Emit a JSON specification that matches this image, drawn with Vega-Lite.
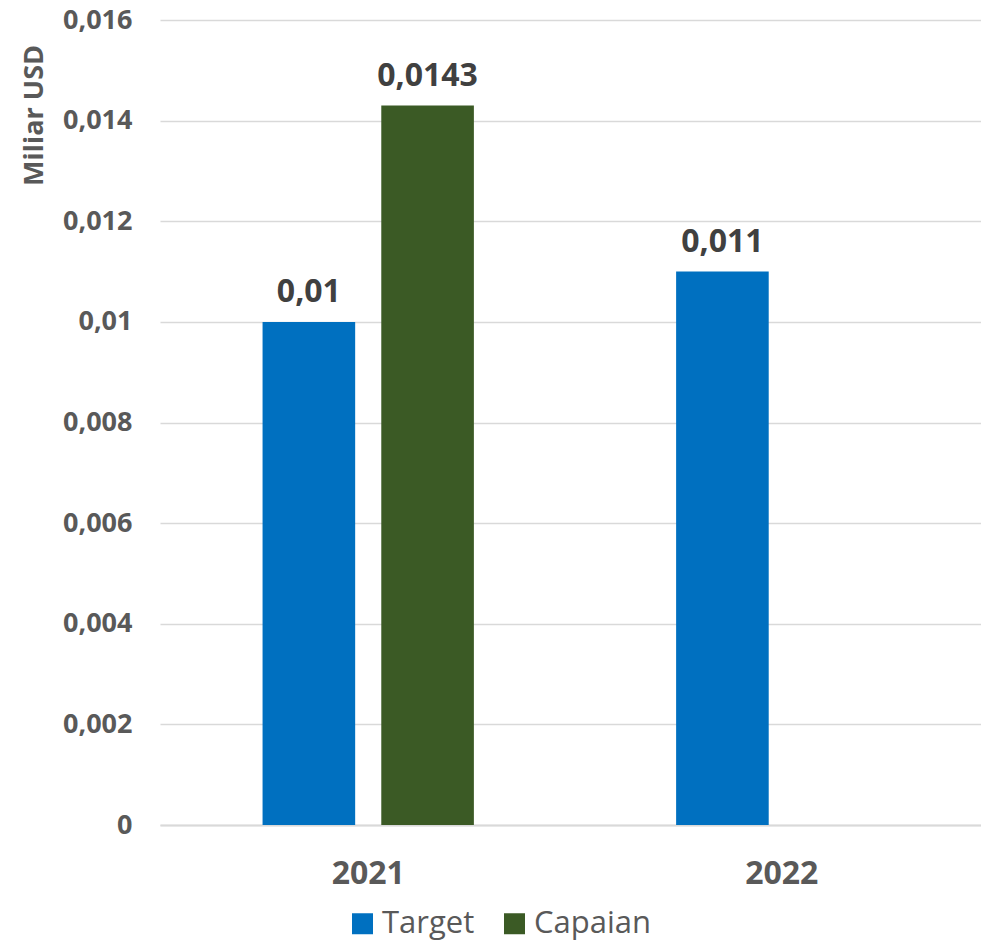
{
  "$schema": "https://vega.github.io/schema/vega-lite/v6.json",
  "width": 830,
  "height": 805,
  "autosize": {"type": "none"},
  "padding": {"left": 160, "top": 20, "right": 0, "bottom": 117},
  "background": "white",
  "data": {
    "values": [
      {"year": "2021", "series": "Target", "value": 0.01},
      {"year": "2021", "series": "Capaian", "value": 0.0143},
      {"year": "2022", "series": "Target", "value": 0.011}
    ]
  },
  "encoding": {
    "x": {
      "field": "year", "type": "nominal",
      "scale": {"paddingInner": 0.489, "paddingOuter": 0.248},
      "axis": {
        "title": null, "labelAngle": 0, "labelFont": "Open Sans", "labelFontWeight": "bold",
        "labelFontSize": 32, "labelColor": "#595959", "labelPadding": 33, "ticks": false,
        "domainColor": "#d9d9d9", "domainWidth": 2
      }
    },
    "xOffset": {
      "field": "series", "type": "nominal", "sort": ["Target", "Capaian"],
      "scale": {"paddingInner": 0.22, "paddingOuter": 0}
    },
    "y": {
      "field": "value", "type": "quantitative",
      "scale": {"domain": [0, 0.016]},
      "axis": {
        "title": "Miliar USD", "titleFont": "Open Sans", "titleFontSize": 27, "titleFontWeight": "bold",
        "titleColor": "#595959", "titleAlign": "center", "titleBaseline": "bottom", "titleY": 95, "titleX": -112, "titleAngle": -90,
        "format": "~f", "values": [0, 0.002, 0.004, 0.006, 0.008, 0.01, 0.012, 0.014, 0.016], "labelOverlap": false,
        "labelFont": "Open Sans", "labelFontWeight": "bold", "labelFontSize": 27, "labelColor": "#595959",
        "labelPadding": 28, "ticks": false, "domain": false, "gridColor": "#d9d9d9", "gridWidth": 1.5
      }
    }
  },
  "layer": [
    {
      "mark": {"type": "bar"},
      "encoding": {
        "color": {
          "field": "series", "type": "nominal",
          "scale": {"domain": ["Target", "Capaian"], "range": ["#0070C0", "#3B5A25"]},
          "legend": {
            "title": null, "orient": "none", "direction": "horizontal", "legendX": 187, "legendY": 888,
            "symbolType": "square", "symbolSize": 441, "symbolStrokeWidth": 0, "labelFont": "Open Sans",
            "labelFontSize": 31, "labelColor": "#595959", "columnPadding": 24, "labelOffset": 4
          }
        }
      }
    },
    {
      "mark": {"type": "text", "baseline": "alphabetic", "dy": -20, "font": "Open Sans", "fontWeight": "bold", "fontSize": 32, "color": "#404040"},
      "encoding": {
        "text": {"field": "value", "type": "quantitative", "format": "~f"}
      }
    }
  ],
  "config": {
    "view": {"stroke": null},
    "locale": {"number": {"decimal": ",", "thousands": ".", "grouping": [3], "currency": ["", ""]}}
  }
}
